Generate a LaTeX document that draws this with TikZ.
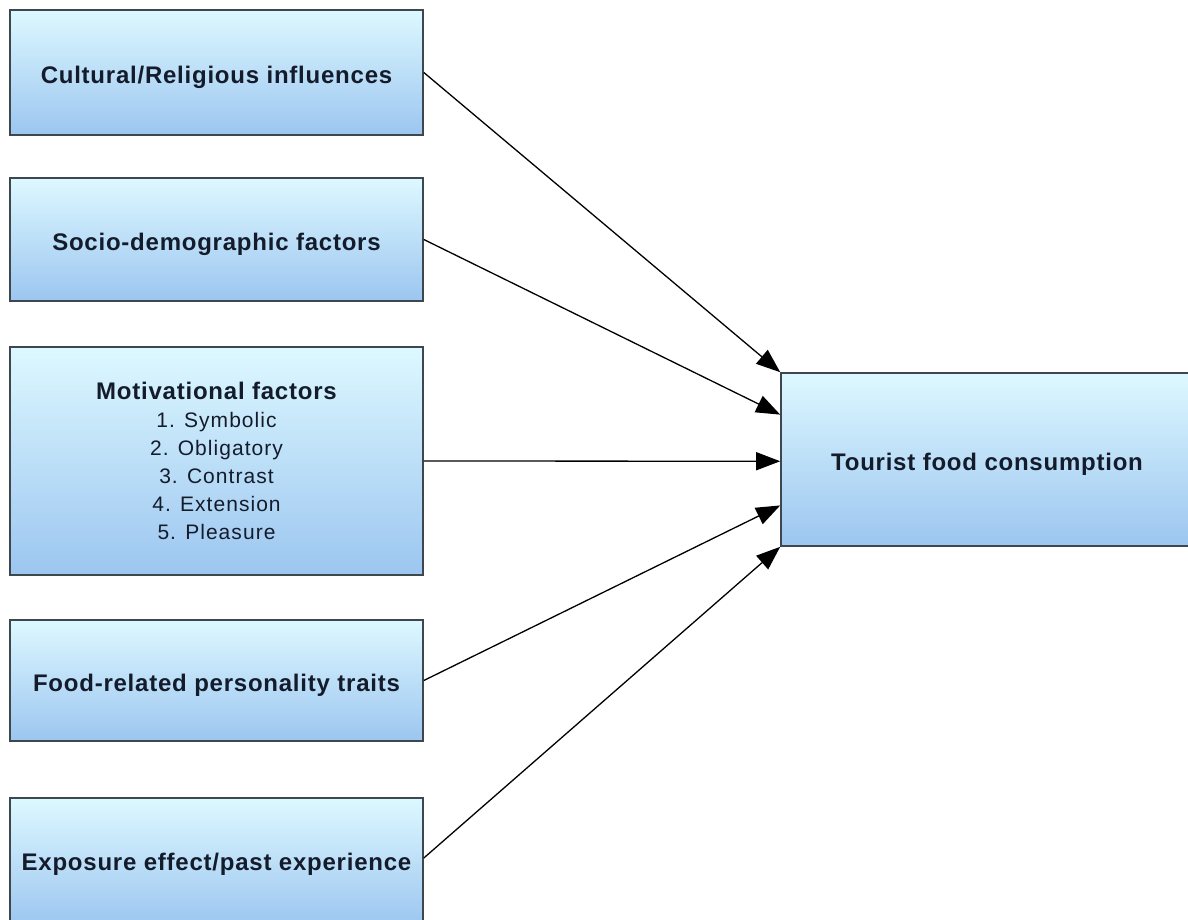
\documentclass[tikz,border=0pt]{standalone}
\usepackage{fontspec}
\setmainfont{Liberation Sans}
\usetikzlibrary{arrows.meta,calc}
\definecolor{boxtop}{HTML}{DDF8FF}
\definecolor{boxbot}{HTML}{9CC6F0}
\definecolor{boxline}{HTML}{3E464E}
\definecolor{txt}{HTML}{141C2C}
% heading and list text
\newcommand{\headtxt}[1]{{\fontsize{24}{28}\selectfont\bfseries\addfontfeature{LetterSpace=3.2}#1}}
\newcommand{\listtxt}[1]{{\fontsize{21}{28}\selectfont\addfontfeature{LetterSpace=5}#1}}
\begin{document}
\begin{tikzpicture}[x=1pt,y=-1pt,
  factor/.style={draw=boxline,line width=1.6pt,top color=boxtop,bottom color=boxbot,
    minimum width=413pt,inner sep=0pt,text=txt,align=center,
    font=\fontsize{21}{28}\selectfont},
  oneline/.style={factor,text height=26pt,text depth=5pt},
  link/.style={line width=1.3pt,-{Triangle[length=24pt,width=18pt]}}]
\useasboundingbox (0,0) rectangle (1188,919);
\node[oneline,minimum height=125pt] (b1) at (216.5,72.5) {\headtxt{Cultural/Religious influences}};
\node[oneline,minimum height=123pt] (b2) at (216.5,239.5) {\headtxt{Socio-demographic factors}};
\node[factor,minimum height=228pt] (b3) at (216.5,461) {\headtxt{Motivational factors}\\\listtxt{1. Symbolic}\\\listtxt{2. Obligatory}\\\listtxt{3. Contrast}\\\listtxt{4. Extension}\\\listtxt{5. Pleasure}};
\node[oneline,minimum height=121pt] (b4) at (216.5,680.5) {\headtxt{Food-related personality traits}};
\node[oneline,text depth=9pt,minimum height=128pt] (b5) at (216.5,862) {\headtxt{Exposure effect/past experience}};
\node[oneline,minimum width=412pt,minimum height=173pt] (tfc) at (987,459.5) {\headtxt{Tourist food consumption}};
\draw[link] (b1.east) -- (tfc.north west);
\draw[link] (b2.east) -- ($(tfc.north west)!0.243!(tfc.south west)$);
\draw[link] (b3.east) -- ($(tfc.north west)!0.51!(tfc.south west)$);
\draw[link] (b4.east) -- ($(tfc.north west)!0.763!(tfc.south west)$);
\draw[link] ([yshift=4pt]b5.east) -- (tfc.south west);
\end{tikzpicture}
\end{document}
